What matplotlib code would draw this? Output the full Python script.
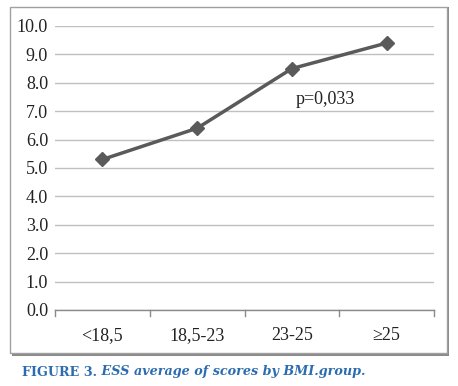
import matplotlib
matplotlib.use("Agg")
import matplotlib.pyplot as plt
from matplotlib.patches import Rectangle

categories = ["<18,5", "18,5-23", "23-25", "\u226525"]
values = [5.3, 6.4, 8.5, 9.4]
yticks = [0, 1, 2, 3, 4, 5, 6, 7, 8, 9, 10]
annotation = "p=0,033"
caption_bold = "FIGURE 3."
caption_italic = " ESS average of scores by BMI.group."

plt.rcParams["font.family"] = ["Liberation Serif", "DejaVu Serif"]

W, H = 458, 386
fig = plt.figure(figsize=(W / 100, H / 100), dpi=100)
fig.patch.set_facecolor("white")

# chart frame with shadow
fig.patches.append(Rectangle((12 / W, 1 - 356 / H), 437 / W, 349 / H, transform=fig.transFigure,
                             facecolor="#8a8a8a", edgecolor="none", zorder=0))
fig.patches.append(Rectangle((10 / W, 1 - 353 / H), 437 / W, 346 / H, transform=fig.transFigure,
                             facecolor="white", edgecolor="#a0a0a0", linewidth=1, zorder=0.5))

ax = fig.add_axes([55 / W, 1 - 310 / H, 379 / W, 284 / H])
ax.set_zorder(2)
ax.set_facecolor("none")
x = list(range(len(categories)))
ax.plot(x, values, color="#5a5a5a", linewidth=2.5, marker="D", markersize=7,
        markerfacecolor="#5a5a5a", markeredgecolor="#5a5a5a", zorder=3)
ax.set_xlim(-0.5, len(categories) - 0.5)
ax.set_ylim(0, 10)
ax.set_yticks(yticks)
ax.set_yticklabels([f"{v:.1f}" for v in yticks])
ax.set_xticks(x)
ax.set_xticklabels(categories)
ax.tick_params(axis="x", length=0, pad=12)
ax.tick_params(axis="y", length=0, pad=5)
for lab in ax.get_xticklabels() + ax.get_yticklabels():
    lab.set_fontsize(13)
    lab.set_color("#222222")
ax.grid(axis="y", color="#c0c0c0", linewidth=1)
ax.set_axisbelow(True)
for s in ["top", "right", "left"]:
    ax.spines[s].set_visible(False)
ax.spines["bottom"].set_color("#8a8a8a")
ax.spines["bottom"].set_linewidth(1)
# category boundary tick marks
for b in [-0.5, 0.5, 1.5, 2.5, 3.5]:
    ax.plot([b, b], [0, -0.22], color="#8a8a8a", linewidth=1, clip_on=False)

ax.text(2.04, 7.4, annotation, fontsize=13, color="#222222", ha="left", va="center")

t = fig.text(22 / W, 1 - 372 / H, caption_bold, family=["DejaVu Serif"], fontsize=9.2,
             fontweight="bold", color="#2b6cb0", va="center", ha="left")
fig.canvas.draw()
bb = t.get_window_extent()
fig.text(bb.x1 / W, 1 - 372 / H, caption_italic, family=["DejaVu Serif"], fontsize=9.2,
         fontweight="bold", fontstyle="italic", color="#2b6cb0", va="center", ha="left")

fig.savefig("out.png", dpi=100)
